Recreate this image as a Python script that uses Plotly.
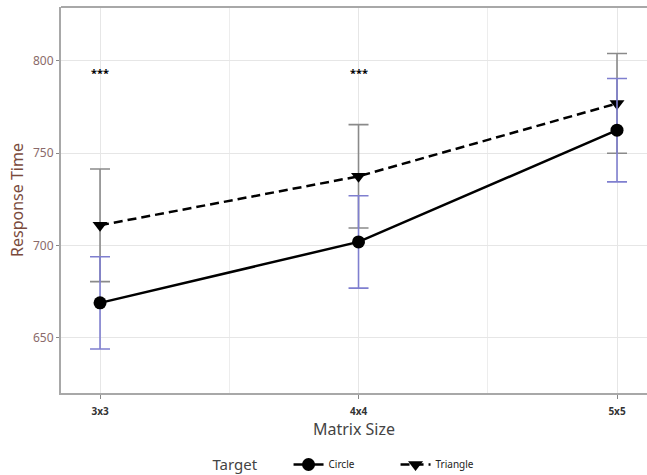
import plotly.graph_objects as go

categories = ["3x3", "4x4", "5x5"]
circle_mean = [669, 702, 762.5]
circle_err = [25, 25, 28]
triangle_mean = [711, 737.5, 777]
triangle_err = [30.5, 28, 27]
sig_labels = ["***", "***"]
sig_positions = [0, 1]
sig_y = 794

FONT = "Noto Sans"
xi = list(range(len(categories)))

fig = go.Figure()

fig.add_trace(go.Scatter(
    x=xi, y=triangle_mean, name="Triangle", mode="lines+markers",
    line=dict(color="black", width=2.5, dash="9px,5px"),
    marker=dict(symbol="triangle-down", size=13, color="black"),
    error_y=dict(type="data", array=triangle_err, visible=True,
                 color="#8a8a8a", thickness=1.6, width=10),
))
fig.add_trace(go.Scatter(
    x=xi, y=circle_mean, name="Circle", mode="lines+markers",
    line=dict(color="black", width=2.5),
    marker=dict(symbol="circle", size=13, color="black"),
    error_y=dict(type="data", array=circle_err, visible=True,
                 color="#7f7fcf", thickness=1.6, width=10),
))

for px, lab in zip(sig_positions, sig_labels):
    fig.add_annotation(x=px, y=sig_y, text="<b>" + lab + "</b>", showarrow=False,
                       font=dict(family=FONT, size=11, color="black"))

# top border
fig.add_shape(type="line", xref="paper", yref="paper", x0=0, x1=1, y0=1, y1=1,
              line=dict(color="#a8a8a8", width=2))

fig.update_layout(
    width=647, height=475,
    margin=dict(l=61, r=0, t=7, b=82, autoexpand=False),
    paper_bgcolor="white", plot_bgcolor="white",
    font=dict(family=FONT),
    showlegend=True,
    legend=dict(
        orientation="h", x=0.255, xanchor="left",
        yref="container", y=0.021, yanchor="middle",
        title=dict(text="Target&nbsp;&nbsp;&nbsp;&nbsp;&nbsp;&nbsp;", side="left",
                   font=dict(size=15, color="#444")),
        font=dict(size=10, color="#222"),
        traceorder="reversed",
        entrywidth=62, entrywidthmode="pixels",
    ),
    xaxis=dict(
        range=[-0.151, 2.116],
        tickmode="array", tickvals=xi,
        ticktext=["<b>" + c + "</b>" for c in categories],
        tickfont=dict(size=10, color="#333"),
        ticklabelstandoff=4,
        showgrid=True, gridcolor="#e6e6e6", gridwidth=1,
        minor=dict(tickmode="array", tickvals=[0.5, 1.5], showgrid=True,
                   gridcolor="#ededed", gridwidth=1, ticks=""),
        showline=True, linecolor="#a8a8a8", linewidth=2,
        ticks="outside", ticklen=4, tickcolor="#888", tickwidth=1,
        title=dict(text="Matrix Size", font=dict(size=16, color="#444"), standoff=7),
        zeroline=False,
    ),
    yaxis=dict(
        range=[620.2, 829.2],
        tickvals=[650, 700, 750, 800],
        tickfont=dict(size=12, color="#8a6a6a"),
        showgrid=True, gridcolor="#e6e6e6", gridwidth=1,
        showline=True, linecolor="#a8a8a8", linewidth=2,
        ticks="outside", ticklen=3, tickcolor="#888", tickwidth=1,
        title=dict(text="Response Time", font=dict(size=16, color="#7a4a3c"), standoff=5),
        zeroline=False,
    ),
)

fig.write_html("out.html")
